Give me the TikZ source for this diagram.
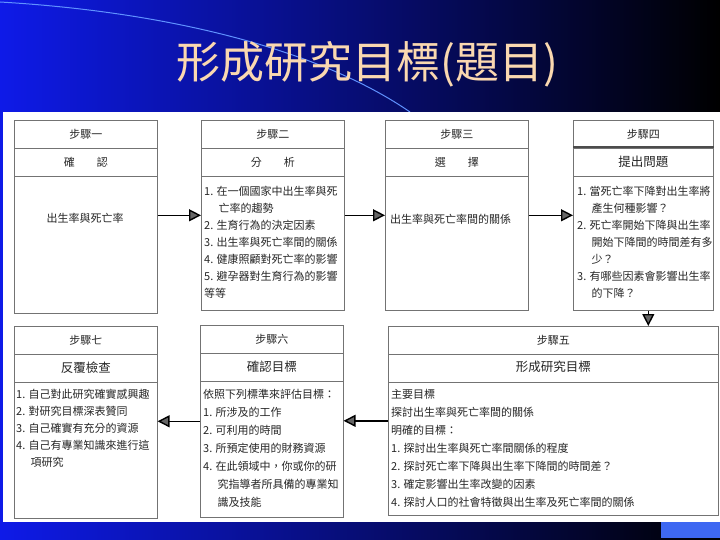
\documentclass[tikz,border=0pt]{standalone}
\usepackage{fontspec}
\setmainfont{Noto Sans CJK TC}
\usetikzlibrary{arrows.meta}

\definecolor{slideblue}{RGB}{14,26,232}
\definecolor{slidenavy}{RGB}{8,18,185}
\definecolor{titlepeach}{RGB}{250,216,176}
\definecolor{arcblue}{RGB}{96,146,255}
\definecolor{cornerblue}{RGB}{62,104,242}

\begin{document}
\begin{tikzpicture}[x=1pt, y=-1pt,
    stepbox/.style={draw=black!55, line width=0.6pt, anchor=north west, inner sep=0pt},
    divline/.style={draw=black!55, line width=0.6pt},
    head/.style={font=\fontsize{11}{13}\selectfont, text=black!85, inner sep=0pt},
    body/.style={font=\fontsize{11}{17}\selectfont, text=black!85, align=left, anchor=north west, inner sep=0pt},
    arr/.style={-{Triangle[length=12pt,width=12pt,fill=black!60]}, line width=1.4pt}
]
\useasboundingbox (0,0) rectangle (720,540);

% background of the slide
\shade[left color=slideblue, middle color=slidenavy, right color=black] (0,0) rectangle (720,540);
\draw[arcblue, line width=1pt] (0,2) .. controls (170,12) and (320,50) .. (410,112);
\fill[white] (3,112) rectangle (720,522);
\fill[cornerblue] (661,522) rectangle (720,538);

% title
\node[text=titlepeach, font=\fontsize{44}{50}\selectfont] (title) at (367,64) {形成研究目標(題目)};

% the seven steps
\node[stepbox, minimum width=143, minimum height=193] (s1) at (14,120) {};
\node[stepbox, minimum width=143, minimum height=190] (s2) at (201,120) {};
\node[stepbox, minimum width=143, minimum height=190] (s3) at (385,120) {};
\node[stepbox, minimum width=140, minimum height=190] (s4) at (573,120) {};
\node[stepbox, minimum width=330, minimum height=189] (s5) at (388,326) {};
\node[stepbox, minimum width=143, minimum height=192] (s6) at (200,325) {};
\node[stepbox, minimum width=143, minimum height=192] (s7) at (14,326) {};

\foreach \b in {s1,s2,s3,s4,s5,s6,s7} {
  \draw[divline] ([yshift=-28pt]\b.north west) -- ([yshift=-28pt]\b.north east);
  \draw[divline] ([yshift=-56pt]\b.north west) -- ([yshift=-56pt]\b.north east);
}
\draw[line width=1.2pt, black!70] ([yshift=-27pt]s4.north west) -- ([yshift=-27pt]s4.north east);

% headings
\node[head] (h1) at ([yshift=-14pt]s1.north) {步驟一};
\node[head] (t1) at ([yshift=-42pt]s1.north) {確\hspace{2em}認};
\node[head] (h2) at ([yshift=-14pt]s2.north) {步驟二};
\node[head] (t2) at ([yshift=-42pt]s2.north) {分\hspace{2em}析};
\node[head] (h3) at ([yshift=-14pt]s3.north) {步驟三};
\node[head] (t3) at ([yshift=-42pt]s3.north) {選\hspace{2em}擇};
\node[head] (h4) at ([yshift=-14pt]s4.north) {步驟四};
\node[head, font=\fontsize{12.5}{14}\selectfont] (t4) at ([yshift=-42pt]s4.north) {提出問題};
\node[head] (h5) at ([yshift=-14pt]s5.north) {步驟五};
\node[head, font=\fontsize{12.5}{14}\selectfont] (t5) at ([yshift=-41pt]s5.north) {形成研究目標};
\node[head] (h6) at ([yshift=-14pt]s6.north) {步驟六};
\node[head, font=\fontsize{12.5}{14}\selectfont] (t6) at ([yshift=-42pt]s6.north) {確認目標};
\node[head] (h7) at ([yshift=-14pt]s7.north) {步驟七};
\node[head, font=\fontsize{12.5}{14}\selectfont] (t7) at ([yshift=-42pt]s7.north) {反覆檢查};

% contents
\node[head] (b1) at (85,218) {出生率與死亡率};
\node[body] (b2) at (204,186) {1. 在一個國家中出生率與死\\
  \hspace*{1.3em}亡率的趨勢\\
  2. 生育行為的決定因素\\
  3. 出生率與死亡率間的關係\\
  4. 健康照顧對死亡率的影響\\
  5. 避孕器對生育行為的影響\\
  等等};
\node[body] (b3) at (390,214) {出生率與死亡率間的關係};
\node[body] (b4) at (577,186) {1. 當死亡率下降對出生率將\\
  \hspace*{1.3em}產生何種影響？\\
  2. 死亡率開始下降與出生率\\
  \hspace*{1.3em}開始下降間的時間差有多\\
  \hspace*{1.3em}少？\\
  3. 有哪些因素會影響出生率\\
  \hspace*{1.3em}的下降？};
\node[body, font=\fontsize{11}{18}\selectfont] (b5) at (391,389) {主要目標\\
  探討出生率與死亡率間的關係\\
  明確的目標：\\
  1. 探討出生率與死亡率間關係的程度\\
  2. 探討死亡率下降與出生率下降間的時間差？\\
  3. 確定影響出生率改變的因素\\
  4. 探討人口的社會特徵與出生率及死亡率間的關係};
\node[body, font=\fontsize{11}{18}\selectfont] (b6) at (203,389) {依照下列標準來評估目標：\\
  1. 所涉及的工作\\
  2. 可利用的時間\\
  3. 所預定使用的財務資源\\
  4. 在此領域中，你或你的研\\
  \hspace*{1.3em}究指導者所具備的專業知\\
  \hspace*{1.3em}識及技能};
\node[body] (b7) at (16,389) {1. 自己對此研究確實感興趣\\
  2. 對研究目標深表贊同\\
  3. 自己確實有充分的資源\\
  4. 自己有專業知識來進行這\\
  \hspace*{1.3em}項研究};

% arrows between steps
\draw[arr] (s2.west -| s1.east) -- (s2.west);
\draw[arr] (s2.east) -- (s3.west);
\draw[arr] (s3.east) -- (s4.west);
\draw[arr] ([xshift=5pt]s4.south) -- ([xshift=5pt]s4.south |- s5.north);
\draw[arr] (s5.west) -- (s5.west -| s6.east);
\draw[arr] (s6.west) -- (s6.west -| s7.east);

\end{tikzpicture}
\end{document}
